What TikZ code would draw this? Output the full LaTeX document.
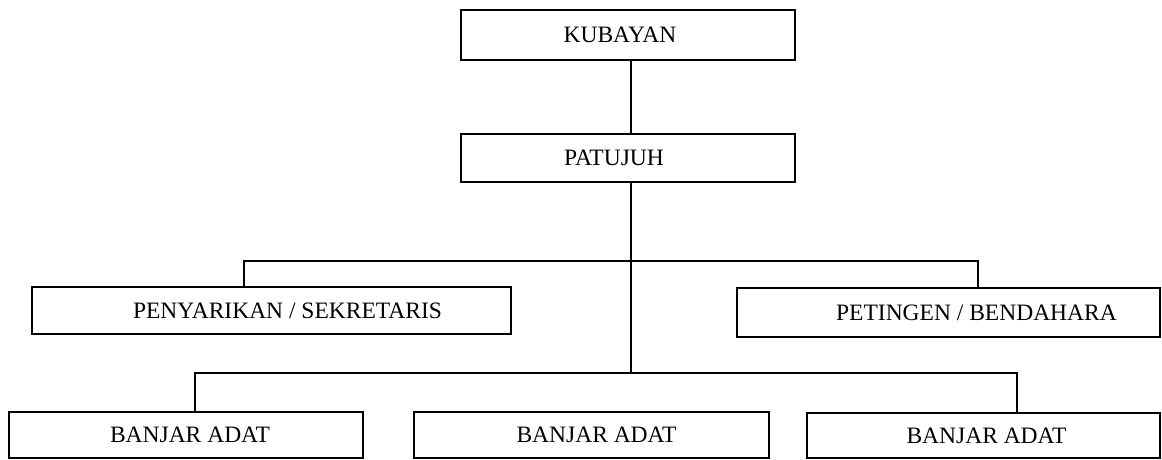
\documentclass[tikz,border=0pt]{standalone}
\usepackage{fontspec}
\setmainfont{Liberation Serif}
\usetikzlibrary{positioning}

\begin{document}
\begin{tikzpicture}[x=1pt, y=-1pt, line width=1.6pt,
  box/.style={draw, rectangle, inner sep=0pt, font=\fontsize{23.5}{28}\selectfont}]
  \useasboundingbox (0,0) rectangle (1162,459);

  % Top: kubayan and patujuh
  \node[box, minimum width=334, minimum height=50] (kub) at (628,35)  {KUBAYAN\hspace*{16pt}};
  \node[box, minimum width=334, minimum height=48] (pat) at (628,158) {PATUJUH\hspace*{28pt}};

  % Middle: sekretaris and bendahara
  \node[box, minimum width=479, minimum height=47] (sek) at (271.5,310.5) {\hspace*{32pt}PENYARIKAN / SEKRETARIS};
  \node[box, minimum width=423, minimum height=49] (ben) at (948.5,312.5) {\hspace*{56pt}PETINGEN / BENDAHARA};

  % Bottom: banjar adat
  \node[box, minimum width=354, minimum height=46] (ba1) at (186,435)   {\hspace*{8pt}BANJAR ADAT};
  \node[box, minimum width=355, minimum height=46] (ba2) at (591.5,435) {\hspace*{10pt}BANJAR ADAT};
  \node[box, minimum width=353, minimum height=45] (ba3) at (983.5,435.5) {\hspace*{6pt}BANJAR ADAT};

  % junctions on the trunk
  \coordinate (j1) at (631,261);
  \coordinate (j2) at (631,373);

  \draw ([xshift=3pt]kub.south) -- ([xshift=3pt]pat.north);
  \draw ([xshift=3pt]pat.south) -- (j2);
  \draw ([xshift=-27.5pt]sek.north) |- (j1) -| ([xshift=29.5pt]ben.north);
  \draw ([xshift=9pt]ba1.north) |- (j2) -| ([xshift=33.5pt]ba3.north);
\end{tikzpicture}
\end{document}
